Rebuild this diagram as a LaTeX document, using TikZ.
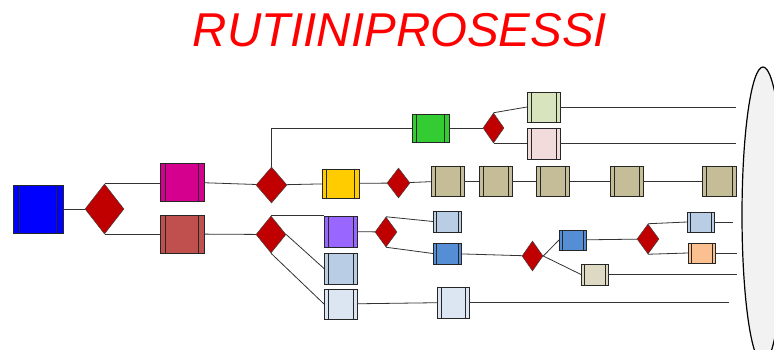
\documentclass[tikz,border=0pt]{standalone}
\usepackage{fontspec}
\setsansfont{Liberation Sans}
\usetikzlibrary{shapes.geometric}

\definecolor{decred}{HTML}{C00000}
\definecolor{cblue}{HTML}{0000FF}
\definecolor{cmag}{HTML}{D6008F}
\definecolor{cbrick}{HTML}{C0504D}
\definecolor{cgreen}{HTML}{33CC33}
\definecolor{clgreen}{HTML}{D7E4BD}
\definecolor{cpink}{HTML}{F2DCDB}
\definecolor{cyel}{HTML}{FFCC00}
\definecolor{ctan}{HTML}{C4BD97}
\definecolor{cpurp}{HTML}{9966FF}
\definecolor{clblue}{HTML}{B9CDE5}
\definecolor{cpale}{HTML}{DCE6F2}
\definecolor{cmblue}{HTML}{558ED5}
\definecolor{cbeige}{HTML}{DDD9C3}
\definecolor{corange}{HTML}{FAC090}

\tikzset{
  proc/.style={draw=black!85, line width=0.7pt, inner sep=0pt, outer sep=0pt, fill=#1},
  bar/.style={draw=black!85, line width=0.7pt},
  sz/.style 2 args={minimum width=#1pt, minimum height=#2pt},
  dec/.style={diamond, draw=black!75, fill=decred, inner sep=0pt, line width=0.5pt},
  link/.style={draw=black!80, line width=0.8pt},
}

\begin{document}
\begin{tikzpicture}[x=1pt,y=-1pt]

  \clip (0,0) rectangle (774,350);

  \node (title) at (400,30) [text=red, font=\sffamily\itshape\fontsize{47.5}{52}\selectfont] {RUTIINIPROSESSI};

  \node (pool) at (763,215) [ellipse, draw=black, fill=black!5, line width=1.2pt, minimum width=42pt, minimum height=296pt] {};

  %% -- first split
  \node (start) at (38,209)    [proc=cblue, sz={50}{48}] {};
  \node (d1)    at (104.5,209) [dec, sz={39}{50}] {};
  \node (mag)   at (182,182)   [proc=cmag, sz={44}{38}] {};
  \node (brick) at (182,234)   [proc=cbrick, sz={44}{38}] {};

  %% -- upper branch
  \node (d2)    at (271.5,185) [dec, sz={31}{36}] {};
  \node (grn)   at (430.5,128) [proc=cgreen, sz={37}{28}] {};
  \node (d3)    at (493.5,128) [dec, sz={21}{30}] {};
  \node (lgrn)  at (543.5,107) [proc=clgreen, sz={33}{30}] {};
  \node (pink)  at (543.5,143.5) [proc=cpink, sz={33}{31}] {};
  \node (yel)   at (340.5,183.5) [proc=cyel, sz={37}{29}] {};
  \node (d4)    at (398.5,183) [dec, sz={23}{30}] {};
  \node (tan1)  at (447.5,181) [proc=ctan, sz={33}{30}] {};
  \node (tan2)  at (495.5,181) [proc=ctan, sz={33}{30}] {};
  \node (tan3)  at (553,181)   [proc=ctan, sz={33}{30}] {};
  \node (tan4)  at (626.5,181) [proc=ctan, sz={33}{30}] {};
  \node (tan5)  at (719,181)   [proc=ctan, sz={34}{30}] {};

  %% -- lower branch
  \node (d5)    at (271,234.5) [dec, sz={30}{37}] {};
  \node (purp)  at (340.5,231.5) [proc=cpurp, sz={33}{31}] {};
  \node (lb)    at (340.5,268.5) [proc=clblue, sz={33}{31}] {};
  \node (pale1) at (340.5,304) [proc=cpale, sz={33}{30}] {};
  \node (pale2) at (453,302.5) [proc=cpale, sz={32}{31}] {};
  \node (d6)    at (386,232)   [dec, sz={22}{30}] {};
  \node (sb1)   at (447,221.5) [proc=clblue, sz={28}{21}] {};
  \node (mb1)   at (447,253.5) [proc=cmblue, sz={28}{21}] {};
  \node (d7)    at (532.5,256) [dec, sz={21}{30}] {};
  \node (mb2)   at (572.5,240) [proc=cmblue, sz={27}{20}] {};
  \node (beige) at (594.5,274.5) [proc=cbeige, sz={27}{21}] {};
  \node (d8)    at (648,239)   [dec, sz={22}{30}] {};
  \node (sb2)   at (700.5,222) [proc=clblue, sz={27}{20}] {};
  \node (orng)  at (701.5,253) [proc=corange, sz={27}{20}] {};

  %% -- inner bars of the process boxes
  \foreach \n/\g in {start/6.5, mag/5.5, brick/5.5, grn/4.5, yel/4.5,
                     lgrn/4, pink/4, tan1/4, tan2/4, tan3/4, tan4/4, tan5/4,
                     purp/4, lb/4, pale1/4, pale2/4,
                     sb1/3, mb1/3, mb2/3, beige/3, sb2/3, orng/3}
    \draw[bar] ([xshift=\g]\n.north west) -- ([xshift=\g]\n.south west)
               ([xshift=-\g]\n.north east) -- ([xshift=-\g]\n.south east);

  %% -- free ends
  \coordinate (e1) at (736,107);
  \coordinate (e2) at (736,143.5);
  \coordinate (e3) at (733,222);
  \coordinate (e4) at (737,253);
  \coordinate (e5) at (737,274.5);
  \coordinate (e6) at (729,302.5);

  %% -- edges
  \draw[link] (start) -- (d1);
  \draw[link] (d1.north) -- (d1.north -| mag.west);
  \draw[link] (d1.south) -- (d1.south -| brick.west);
  %% upper
  \draw[link] (mag) -- (d2);
  \draw[link] (d2.north) |- (grn.west);
  \draw[link] (grn) -- (d3);
  \draw[link] (d3.north) -- (lgrn.west);
  \draw[link] (d3.south) -- (d3.south -| pink.west);
  \draw[link] (lgrn) -- (e1);
  \draw[link] (pink) -- (e2);
  \draw[link] (d2) -- (yel);
  \draw[link] (yel) -- (d4);
  \draw[link] (d4) -- (tan1);
  \draw[link] (tan1) -- (tan2);
  \draw[link] (tan2) -- (tan3);
  \draw[link] (tan3) -- (tan4);
  \draw[link] (tan4) -- (tan5);
  %% lower
  \draw[link] (brick) -- (d5);
  \draw[link] (d5.north) -- (d5.north -| purp.west);
  \draw[link] (d5.east) -- (lb.west);
  \draw[link] (d5.south) -- (pale1.west);
  \draw[link] (pale1) -- (pale2);
  \draw[link] (pale2) -- (e6);
  \draw[link] (purp) -- (d6);
  \draw[link] (d6.north) -- (sb1.west);
  \draw[link] (d6.south) -- (mb1.west);
  \draw[link] (mb1) -- (d7);
  \draw[link] (d7.east) -- (mb2.west);
  \draw[link] (d7.east) -- (beige.west);
  \draw[link] (beige) -- (e5);
  \draw[link] (mb2) -- (d8);
  \draw[link] (d8.north) -- (sb2.west);
  \draw[link] (d8.south) -- (orng.west);
  \draw[link] (sb2) -- (e3);
  \draw[link] (orng) -- (e4);

\end{tikzpicture}
\end{document}
